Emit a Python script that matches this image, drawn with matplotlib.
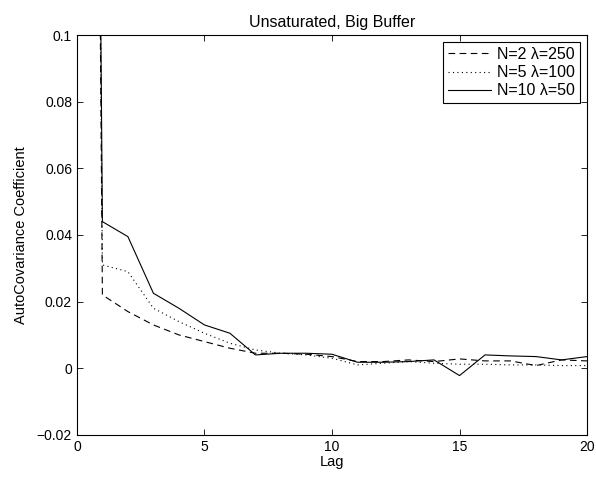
import matplotlib
matplotlib.use("Agg")
import matplotlib.pyplot as plt
import numpy as np

plt.rcParams["font.family"] = ["Liberation Sans", "DejaVu Sans"]

lags = np.arange(0, 21)

# autocovariance coefficient per lag (lag 0 normalised to 1)
acv_n2 = [1.0, 0.022, 0.017, 0.013, 0.010, 0.008, 0.006, 0.0045, 0.0045, 0.0042, 0.0035,
          0.002, 0.002, 0.0025, 0.002, 0.0028, 0.0022, 0.0022, 0.0008, 0.0025, 0.0022]
acv_n5 = [1.0, 0.031, 0.029, 0.018, 0.014, 0.0105, 0.0075, 0.0055, 0.0045, 0.004, 0.003,
          0.001, 0.0015, 0.002, 0.0015, 0.0012, 0.0012, 0.001, 0.001, 0.0008, 0.0008]
acv_n10 = [1.0, 0.044, 0.0395, 0.0225, 0.018, 0.013, 0.0105, 0.004, 0.0045, 0.0045, 0.0042,
           0.0018, 0.0018, 0.002, 0.0025, -0.0022, 0.004, 0.0037, 0.0035, 0.0025, 0.0035]

series_labels = ["N=2 \u03bb=250", "N=5 \u03bb=100", "N=10 \u03bb=50"]

yticks = [-0.02, 0, 0.02, 0.04, 0.06, 0.08, 0.1]
ytick_labels = ["\u22120.02", "0", "0.02", "0.04", "0.06", "0.08", "0.1"]
xticks = [0, 5, 10, 15, 20]

fig = plt.figure(figsize=(5.96, 4.8), dpi=100)
ax = fig.add_axes([0.129, 0.094, 0.856, 0.833])

ax.plot(lags, acv_n2, color="k", linestyle=(0, (6, 4)), linewidth=0.8, label=series_labels[0])
ax.plot(lags, acv_n5, color="k", linestyle=(0, (1, 3)), linewidth=0.8, label=series_labels[1])
ax.plot(lags, acv_n10, color="k", linestyle="-", linewidth=0.8, label=series_labels[2])

ax.set_xlim(0, 20)
ax.set_ylim(-0.02, 0.1)
ax.set_xticks(xticks)
ax.set_yticks(yticks)
ax.set_yticklabels(ytick_labels)
ax.tick_params(direction="in", top=True, right=True, labelsize=10, length=4, width=0.6)
for spine in ax.spines.values():
    spine.set_linewidth(0.8)

ax.set_title("Unsaturated, Big Buffer", fontsize=11.5, pad=6)
ax.set_xlabel("Lag", fontsize=10.5, labelpad=1)
ax.set_ylabel("AutoCovariance Coefficient", fontsize=10.5, labelpad=6)

leg = ax.legend(loc="upper right", fontsize=11.5, fancybox=False, framealpha=1,
                edgecolor="k", borderaxespad=0.45, handlelength=2.7,
                labelspacing=0.2, borderpad=0.3, handletextpad=0.4)
leg.get_frame().set_linewidth(0.8)

fig.savefig("out.png", dpi=100)
